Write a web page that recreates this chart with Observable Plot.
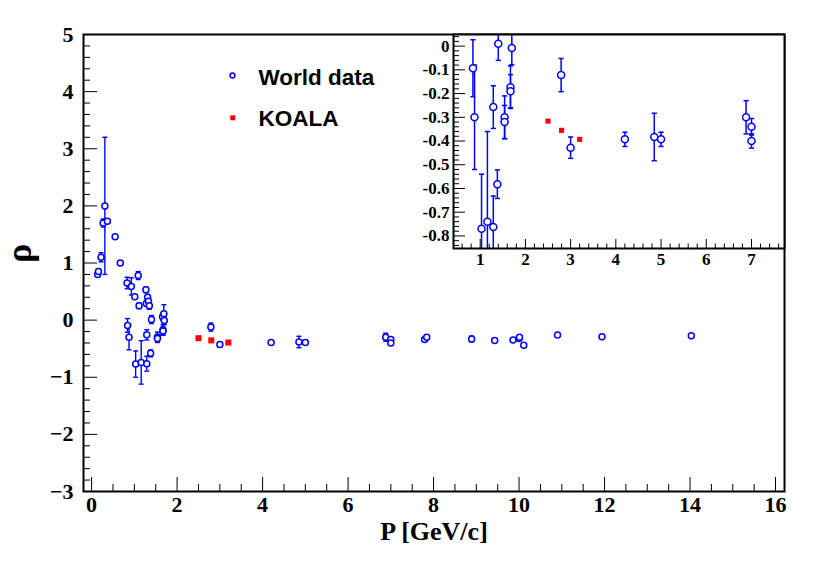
<!DOCTYPE html>
<html><head><meta charset="utf-8">
<script src="https://cdn.jsdelivr.net/npm/d3@7"></script>
<script src="https://cdn.jsdelivr.net/npm/@observablehq/plot@0.6"></script>
<style>
body{margin:0;background:#fff;}
#wrap{position:relative;width:830px;height:565px;overflow:hidden;}
</style></head><body><div id="wrap"></div>
<script>
// World data: momentum P [GeV/c], rho, error
const worldP = [0.14,0.16,0.22,0.27,0.31,0.37,0.55,0.67,0.83,0.84,
  0.875,0.93,1.01,1.03,1.09,1.11,1.16,1.27,1.28,1.29,
  1.29,1.31,1.33,1.35,1.38,1.40,1.54,1.54,1.66,1.69,
  1.67,1.67,1.70,2.79,3.00,4.20,4.85,5.00,6.88,7.00,
  7.00,7.79,7.84,8.89,9.43,9.86,10.00,10.01,10.11,10.90,
  11.94,14.03];
const worldRho = [0.80,0.85,1.10,1.70,2.00,1.73,1.46,1.00,0.65,-0.093,
  -0.30,0.59,0.41,-0.77,0.78,0.25,-0.74,0.53,0.29,-0.257,
  -0.762,0.40,0.33,0.25,-0.582,0.01,-0.30,-0.32,0.06,0.11,
  -0.173,-0.19,-0.008,-0.122,-0.428,-0.393,-0.383,-0.393,-0.30,-0.34,
  -0.40,-0.34,-0.30,-0.33,-0.355,-0.35,-0.32,-0.30,-0.44,-0.26,
  -0.29,-0.275];
const worldErr = [0.04,0.05,0.08,0.07,1.2,0,0,0,0.1,0.12,
  0.22,0.15,0,0.23,0.07,0.05,0.38,0.05,0,0.09,
  0.13,0.05,0.05,0.06,0.06,0.07,0.09,0.07,0.06,0.16,
  0.09,0.07,0.07,0.07,0.045,0.03,0.10,0.03,0.07,0.035,
  0.03,0.02,0.02,0.05,0,0,0,0.02,0,0.02,
  0.02,0.02];
// KOALA
const koalaP = [2.50, 2.80, 3.20];
const koalaRho = [-0.316, -0.355, -0.393];

// Tick labels
const mainXTicks = [0,2,4,6,8,10,12,14,16];
const mainYTicks = [-3,-2,-1,0,1,2,3,4,5];
const insetXTicks = [1,2,3,4,5,6,7];
const insetYTicks = [0,-0.1,-0.2,-0.3,-0.4,-0.5,-0.6,-0.7,-0.8];
const legendLabels = ["World data", "KOALA"];
const xTitle = "P [GeV/c]";
const yTitle = "ρ";

const blue = "#0000ff", red = "#ff0000";
const serif = "'Liberation Serif', 'Times New Roman', serif";
const sans = "'Liberation Sans', Arial, sans-serif";
const capSym = {draw(ctx, size){ const w = Math.sqrt(size/Math.PI); ctx.moveTo(-w,0); ctx.lineTo(w,0); }};

const wi = d3.range(worldP.length);
const ki = d3.range(koalaP.length);
const we = wi.filter(i => worldErr[i] > 0);

// ---------- main plot ----------
const W = 830, H = 565, mL = 83, mR = 46, mT = 34, mB = 74;
const iw = W - mL - mR, ih = H - mT - mB;
const xMinor = d3.range(0, 16.01, 0.5).filter(v => v % 2 !== 0);
const yMinor = d3.range(-3, 5.001, 0.2).map(v => +v.toFixed(2)).filter(v => !Number.isInteger(v));

const main = Plot.plot({
  width: W, height: H,
  marginLeft: mL, marginRight: mR, marginTop: mT, marginBottom: mB,
  x: {domain: [-0.19, 16.21]},
  y: {domain: [-3, 5]},
  style: {background: "white", fontFamily: serif},
  marks: [
    Plot.ruleX(xMinor, {x: d => d, insetTop: ih - 7, stroke: "black", strokeWidth: 1}),
    Plot.ruleX(mainXTicks, {x: d => d, insetTop: ih - 14, stroke: "black", strokeWidth: 1}),
    Plot.ruleY(yMinor, {y: d => d, insetRight: iw - 7, stroke: "black", strokeWidth: 1}),
    Plot.ruleY(mainYTicks, {y: d => d, insetRight: iw - 14, stroke: "black", strokeWidth: 1}),
    Plot.axisX({ticks: mainXTicks, tickSize: 0, tickPadding: 5, fontSize: 22, fontWeight: "bold", fontFamily: serif, label: null}),
    Plot.axisY({ticks: mainYTicks, tickSize: 0, tickPadding: 10, fontSize: 22, fontWeight: "bold", fontFamily: serif, label: null}),
    Plot.text([xTitle], {frameAnchor: "bottom", dy: 40, lineAnchor: "middle", fontSize: 26, fontWeight: "bold", fontFamily: serif, fill: "black"}),
    Plot.text([yTitle], {frameAnchor: "left", dx: -64, lineAnchor: "middle", rotate: -90, fontSize: 36, fontWeight: "bold", fontFamily: serif, fill: "black"}),
    // error bars
    Plot.ruleX(we, {x: i => worldP[i], y1: i => worldRho[i] - worldErr[i], y2: i => worldRho[i] + worldErr[i], stroke: blue, strokeWidth: 1.4}),
    Plot.dot(we, {x: i => worldP[i], y: i => worldRho[i] - worldErr[i], symbol: capSym, r: 2.5, stroke: blue, fill: "none", strokeWidth: 1.4}),
    Plot.dot(we, {x: i => worldP[i], y: i => worldRho[i] + worldErr[i], symbol: capSym, r: 2.5, stroke: blue, fill: "none", strokeWidth: 1.4}),
    Plot.dot(wi, {x: i => worldP[i], y: i => worldRho[i], r: 3, stroke: blue, fill: "white", strokeWidth: 1.5}),
    Plot.dot(ki, {x: i => koalaP[i], y: i => koalaRho[i], symbol: "square", r: 3.4, fill: red, stroke: "none"}),
    // legend
    Plot.dot([legendLabels[0]], {frameAnchor: "top-left", dx: 149, dy: 41, r: 2.4, stroke: blue, fill: "none", strokeWidth: 1.5}),
    Plot.dot([legendLabels[1]], {frameAnchor: "top-left", dx: 149.3, dy: 83.3, symbol: "square", r: 2.8, fill: red, stroke: "none"}),
    Plot.text([legendLabels[0]], {frameAnchor: "top-left", dx: 175, dy: 43.5, lineAnchor: "middle", textAnchor: "start", fontSize: 22.5, fontWeight: "bold", fontFamily: sans, fill: "black"}),
    Plot.text([legendLabels[1]], {frameAnchor: "top-left", dx: 175, dy: 84.3, lineAnchor: "middle", textAnchor: "start", fontSize: 22.5, fontWeight: "bold", fontFamily: sans, fill: "black"}),
    Plot.frame({stroke: "black", strokeWidth: 2})
  ]
});

// ---------- inset ----------
const IW = 377, IH = 243, iL = 45, iR = 1, iT = 1, iB = 28;
const iiw = IW - iL - iR, iih = IH - iT - iB;
const ixDom = [0.41, 7.73], iyDom = [-0.853, 0.049];
const ixMinor = d3.range(0.6, 7.71, 0.2).map(v => +v.toFixed(2)).filter(v => !Number.isInteger(v));
const iyMajor = insetYTicks;
const iyMinor = d3.range(-0.84, 0.041, 0.02).map(v => +v.toFixed(2)).filter(v => Math.abs(v*10 - Math.round(v*10)) > 1e-6);
const inX = i => worldP[i] >= ixDom[0] && worldP[i] <= ixDom[1];
const inY = v => v >= iyDom[0] && v <= iyDom[1];
const iwi = wi.filter(i => inX(i) && inY(worldRho[i]));
const iwe = iwi.filter(i => worldErr[i] > 0);
const clampY = v => Math.max(iyDom[0], Math.min(iyDom[1], v));

const inset = Plot.plot({
  width: IW, height: IH,
  marginLeft: iL, marginRight: iR, marginTop: iT, marginBottom: iB,
  x: {domain: ixDom},
  y: {domain: iyDom},
  style: {background: "transparent", fontFamily: serif, overflow: "visible"},
  marks: [
    Plot.frame({fill: "white", stroke: "none"}),
    Plot.ruleX(ixMinor, {x: d => d, insetTop: iih - 4.5, stroke: "black", strokeWidth: 1}),
    Plot.ruleX(insetXTicks, {x: d => d, insetTop: iih - 9, stroke: "black", strokeWidth: 1}),
    Plot.ruleY(iyMinor, {y: d => d, insetRight: iiw - 6, stroke: "black", strokeWidth: 1}),
    Plot.ruleY(iyMajor, {y: d => d, insetRight: iiw - 12, stroke: "black", strokeWidth: 1}),
    Plot.axisX({ticks: insetXTicks, tickSize: 0, tickPadding: 4, fontSize: 17, fontWeight: "bold", fontFamily: serif, label: null}),
    Plot.axisY({ticks: insetYTicks, tickSize: 0, tickPadding: 4, fontSize: 17, fontWeight: "bold", fontFamily: serif, label: null,
      tickFormat: d => d === 0 ? "0" : d.toFixed(1)}),
    Plot.ruleX(iwe, {x: i => worldP[i], y1: i => clampY(worldRho[i] - worldErr[i]), y2: i => clampY(worldRho[i] + worldErr[i]), stroke: blue, strokeWidth: 1.5}),
    Plot.dot(iwe.filter(i => inY(worldRho[i] - worldErr[i])), {x: i => worldP[i], y: i => worldRho[i] - worldErr[i], symbol: capSym, r: 2.6, stroke: blue, fill: "none", strokeWidth: 1.5}),
    Plot.dot(iwe.filter(i => inY(worldRho[i] + worldErr[i])), {x: i => worldP[i], y: i => worldRho[i] + worldErr[i], symbol: capSym, r: 2.6, stroke: blue, fill: "none", strokeWidth: 1.5}),
    Plot.dot(iwi, {x: i => worldP[i], y: i => worldRho[i], r: 3.5, stroke: blue, fill: "white", strokeWidth: 1.5}),
    Plot.dot(ki, {x: i => koalaP[i], y: i => koalaRho[i], symbol: "square", r: 2.9, fill: red, stroke: "none"}),
    Plot.frame({stroke: "black", strokeWidth: 2})
  ]
});

const wrap = document.getElementById("wrap");
wrap.appendChild(main);
inset.style.position = "absolute";
inset.style.left = "408.3px";
inset.style.top = "33px";
wrap.appendChild(inset);
</script></body></html>
